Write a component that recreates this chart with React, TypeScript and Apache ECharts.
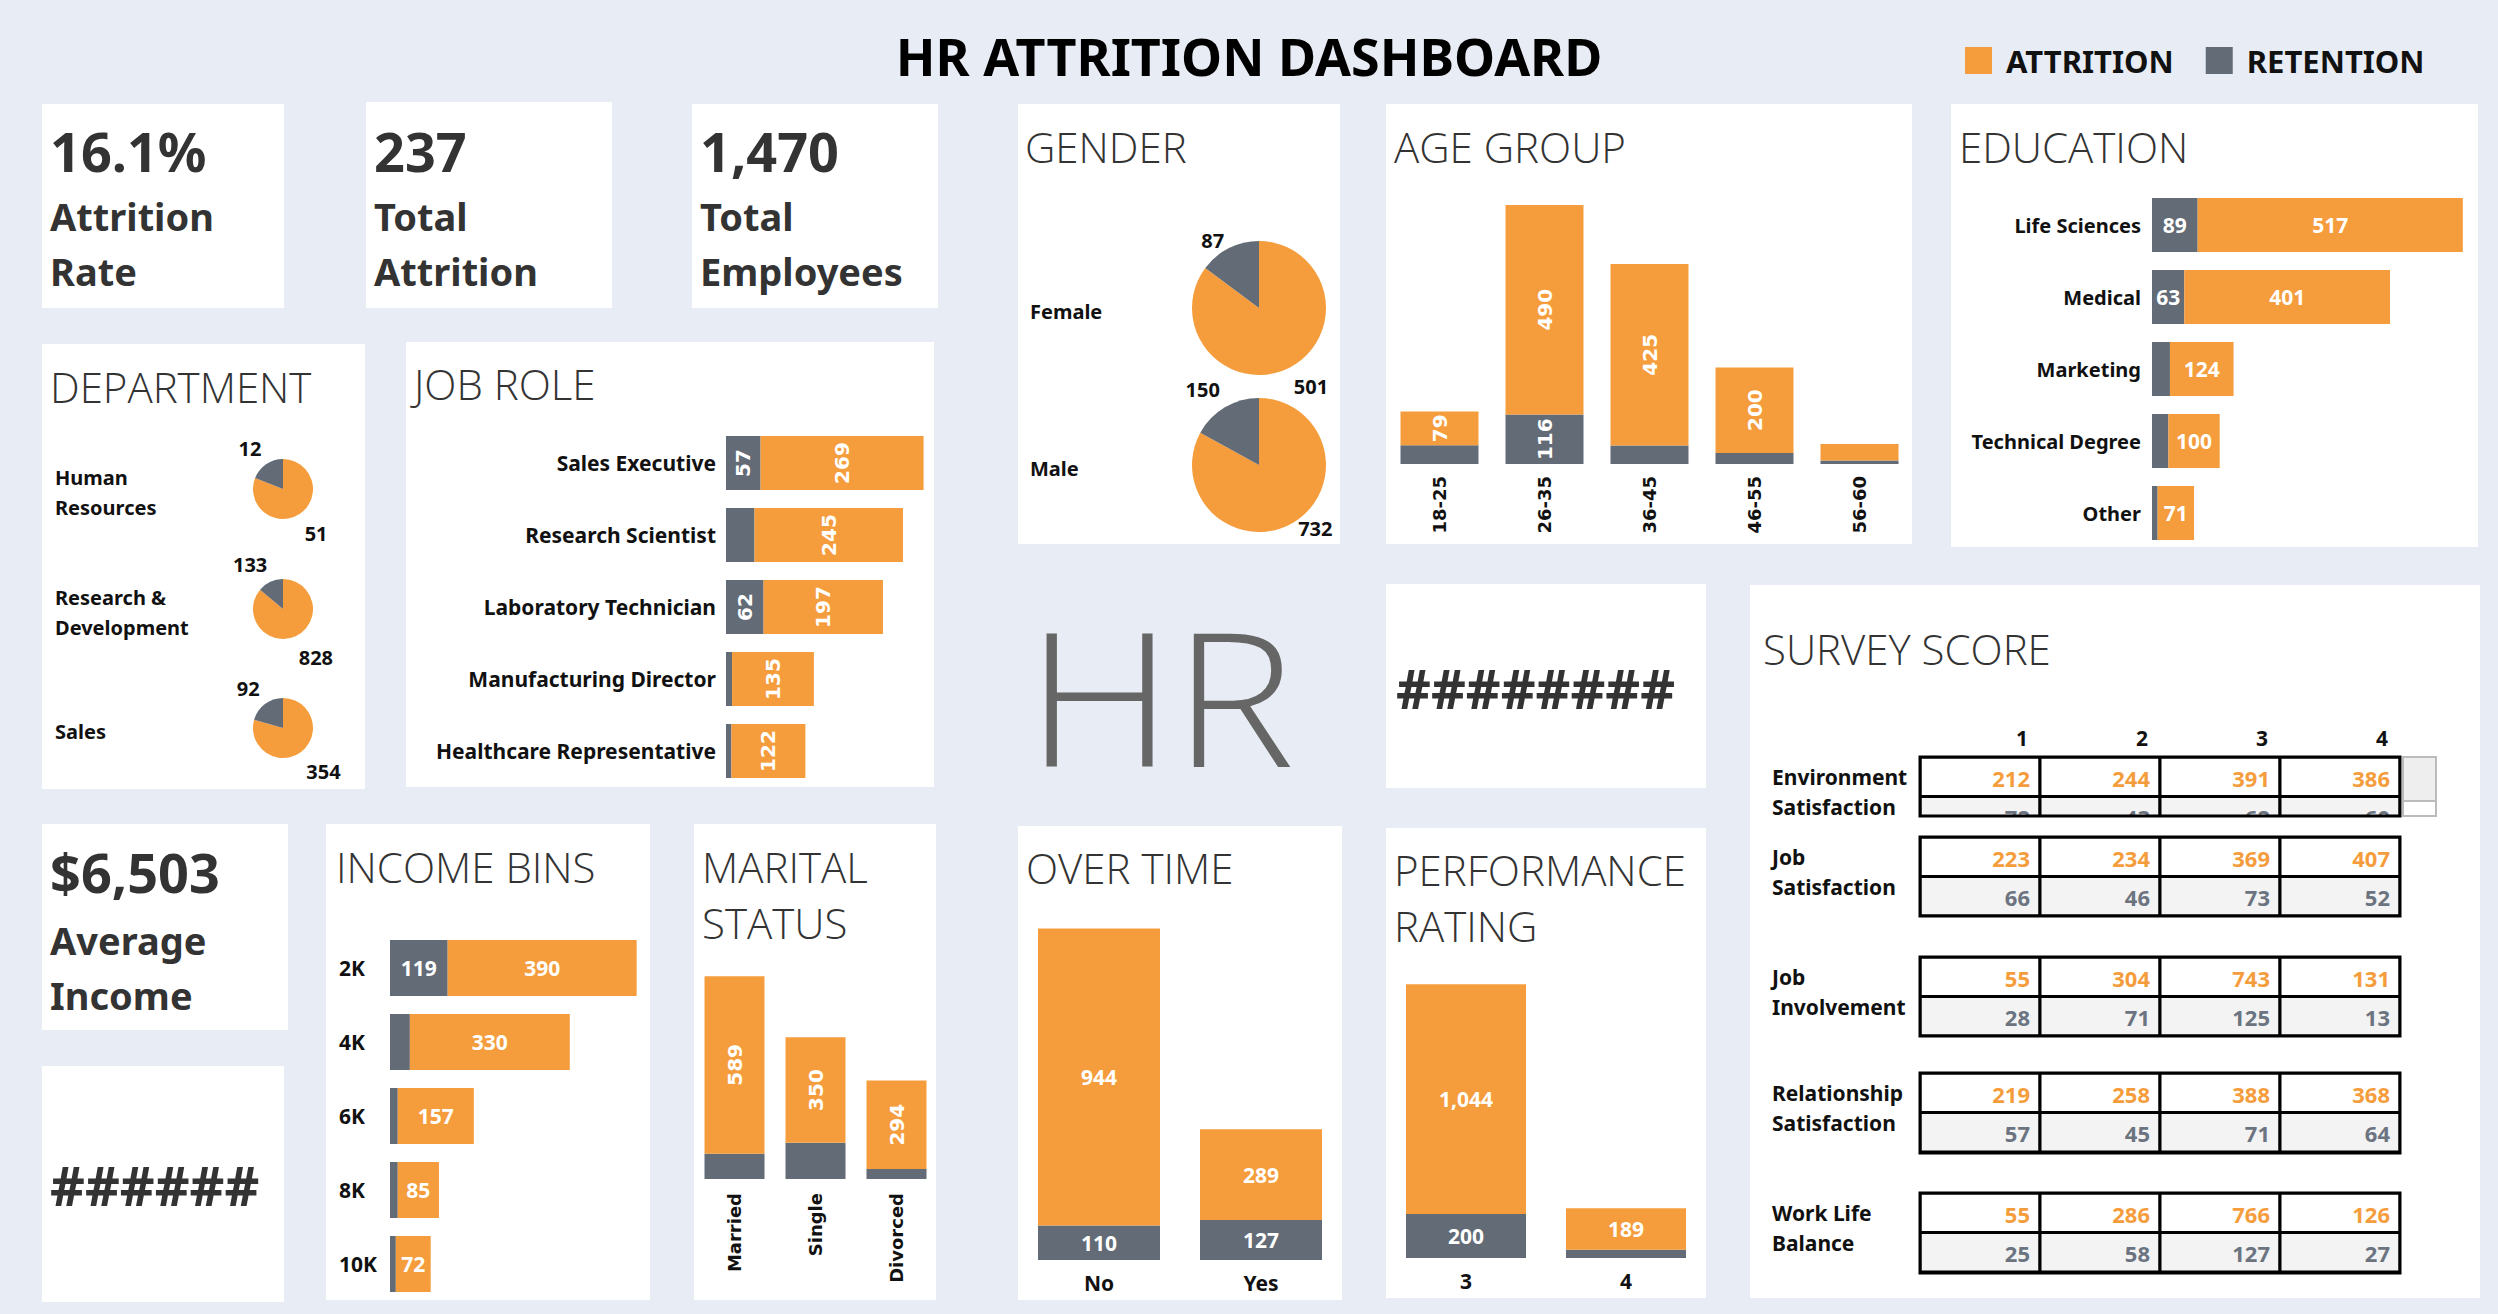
import React, { useEffect, useRef } from 'react';
import * as echarts from 'echarts';

// ---------------- data ----------------
const legendNames = ['ATTRITION', 'RETENTION'];

const kpiValues = ['16.1%', '237', '1,470'];
const kpiLabels = ['Attrition Rate', 'Total Attrition', 'Total Employees'];
const avgIncomeValue = '$6,503';
const avgIncomeLabel = 'Average Income';
const overflowValueA = '######';
const overflowValueB = '########';
const logoText = 'HR';

const deptNames = ['Human Resources', 'Research & Development', 'Sales'];
const deptAttrition = [51, 828, 354];
const deptRetention = [12, 133, 92];

const genderNames = ['Female', 'Male'];
const genderAttrition = [501, 732];
const genderRetention = [87, 150];

const jobRoles = ['Sales Executive', 'Research Scientist', 'Laboratory Technician', 'Manufacturing Director', 'Healthcare Representative'];
const jobRoleRetention = [57, 47, 62, 10, 9];
const jobRoleAttrition = [269, 245, 197, 135, 122];

const educationFields = ['Life Sciences', 'Medical', 'Marketing', 'Technical Degree', 'Other'];
const educationRetention = [89, 63, 35, 32, 11];
const educationAttrition = [517, 401, 124, 100, 71];

const incomeBins = ['2K', '4K', '6K', '8K', '10K'];
const incomeRetention = [119, 41, 16, 16, 12];
const incomeAttrition = [390, 330, 157, 85, 72];

const ageGroups = ['18-25', '26-35', '36-45', '46-55', '56-60'];
const ageRetention = [44, 116, 43, 26, 8];
const ageAttrition = [79, 490, 425, 200, 39];

const maritalStatus = ['Married', 'Single', 'Divorced'];
const maritalRetention = [84, 120, 33];
const maritalAttrition = [589, 350, 294];

const overTime = ['No', 'Yes'];
const overTimeRetention = [110, 127];
const overTimeAttrition = [944, 289];

const perfRatings = ['3', '4'];
const perfRetention = [200, 37];
const perfAttrition = [1044, 189];

const surveyCols = ['1', '2', '3', '4'];
const surveyRows = ['Environment Satisfaction', 'Job Satisfaction', 'Job Involvement', 'Relationship Satisfaction', 'Work Life Balance'];
const surveyAttrition = [
  [212, 244, 391, 386],
  [223, 234, 369, 407],
  [55, 304, 743, 131],
  [219, 258, 388, 368],
  [55, 286, 766, 126],
];
const surveyRetention = [
  [72, 43, 62, 60],
  [66, 46, 73, 52],
  [28, 71, 125, 13],
  [57, 45, 71, 64],
  [25, 58, 127, 27],
];

// ---------------- styles / layout ----------------
const W = 2498;
const H = 1314;
const BG = '#E8ECF5';
const ORANGE = '#F59D3C';
const GRAY = '#626B76';
const SURVEY_GRAY_TEXT = '#6B7480';
const SANS = '"Noto Sans", "Open Sans", sans-serif';
const LIGHT = '"Open Sans", "Noto Sans", sans-serif';
const WIDE = '"DejaVu Sans", Verdana, sans-serif';

const PANELS = [
  [42, 104, 242, 204], [366, 102, 246, 206], [692, 104, 246, 204],
  [42, 344, 323, 445], [406, 342, 528, 445],
  [1018, 104, 322, 440], [1386, 104, 526, 440], [1951, 104, 527, 443],
  [1386, 584, 320, 204], [1750, 585, 730, 713],
  [42, 824, 246, 206], [42, 1066, 242, 236],
  [326, 824, 324, 476], [694, 824, 242, 476], [1018, 826, 324, 474], [1386, 828, 320, 470],
];

const PANEL_TITLES: [string, number, number][] = [
  ['DEPARTMENT', 50, 386], ['JOB ROLE', 414, 383], ['GENDER', 1025, 146], ['AGE GROUP', 1394, 146],
  ['EDUCATION', 1959, 146], ['SURVEY SCORE', 1763, 648], ['INCOME BINS', 336, 866],
  ['MARITAL\nSTATUS', 702, 894], ['OVER TIME', 1026, 867], ['PERFORMANCE\nRATING', 1394, 897],
];

const KPI_X = [50, 374, 700];
const DEPT_PIE = { x: 283, ys: [489, 609, 728], r: 30 };
const GENDER_PIE = { x: 1259, ys: [308, 465], r: 67 };
// label nudges [orange dx, dy, gray dx, dy]
const DEPT_NUDGE = [-5, 10, 5, -6];
const GENDER_NUDGE = [[0, 15, 0, -4], [0, 2, 0, -14]];
const SURVEY = { left: 1920, width: 480, tops: [757, 837, 957, 1073, 1193], heights: [59, 79, 79, 80, 80], rowH: 39.5 };

const fmt = (v: number) => v.toLocaleString('en-US');
// put the last word of a label on its own line
const twoLines = (s: string) => {
  const i = s.lastIndexOf(' ');
  return i < 0 ? s : s.slice(0, i) + '\n' + s.slice(i + 1);
};

function text(t: string, x: number, y: number, font: string, fill: string, extra: any = {}, el: any = {}) {
  return { type: 'text', x, y, z: 2, ...el, style: { text: t, font, fill, align: 'left', verticalAlign: 'middle', ...extra } };
}

function stackedBars(idx: number, gray: number[], orange: number[], cfg: any) {
  const label = {
    show: true,
    position: 'inside',
    color: '#fff',
    rotate: cfg.rotate ? 90 : 0,
    fontFamily: cfg.rotate ? WIDE : SANS,
    fontWeight: 'bold',
    fontSize: cfg.rotate ? 20 : 21,
    formatter: (p: any) => fmt(p.value),
  };
  const mk = (vals: number[], min: number) => vals.map((v) => ({ value: v, label: { show: v >= min } }));
  const base = {
    type: 'bar',
    xAxisIndex: idx,
    yAxisIndex: idx,
    stack: 'stack' + idx,
    barWidth: cfg.barWidth,
    emphasis: { disabled: true },
    label,
  };
  return [
    { ...base, name: 'RETENTION', itemStyle: { color: GRAY }, data: mk(gray, cfg.grayMin) },
    { ...base, name: 'ATTRITION', itemStyle: { color: ORANGE }, data: mk(orange, cfg.orangeMin) },
  ];
}

function pieSeries(cx: number, cy: number, r: number, orangeV: number, grayV: number, len: number, nudge: number[]) {
  return {
    type: 'pie',
    center: [cx, cy],
    radius: r,
    startAngle: 90,
    clockwise: true,
    avoidLabelOverlap: false,
    emphasis: { disabled: true },
    itemStyle: { borderWidth: 0 },
    label: { show: true, position: 'outside', formatter: '{c}', fontFamily: SANS, fontWeight: 'bold', fontSize: 20, color: '#111', distanceToLabelLine: 3 },
    labelLine: { show: false, length: len, length2: 0 },
    labelLayout: (p: any) => (p.dataIndex === 0 ? { dx: nudge[0], dy: nudge[1] } : { dx: nudge[2], dy: nudge[3] }),
    data: [
      { name: 'ATTRITION', value: orangeV, itemStyle: { color: ORANGE } },
      { name: 'RETENTION', value: grayV, itemStyle: { color: GRAY } },
    ],
  };
}

const noLine = { axisLine: { show: false }, axisTick: { show: false }, splitLine: { show: false } };

function buildOption() {
  const grids: any[] = [
    { left: 726, top: 427, width: 200, height: 360 },
    { left: 2152, top: 189, width: 318, height: 360 },
    { left: 390, top: 931, width: 252, height: 370 },
    { left: 1387, top: 199, width: 525, height: 265 },
    { left: 694, top: 968, width: 243, height: 211 },
    { left: 1018, top: 914, width: 324, height: 346 },
    { left: 1386, top: 972, width: 320, height: 286 },
  ];
  const xAxes: any[] = [];
  const yAxes: any[] = [];
  const catLabel = (size: number, margin: number, extra: any = {}) => ({
    fontFamily: SANS, fontWeight: 'bold', fontSize: size, color: '#111', margin, ...extra,
  });
  const hDefs = [
    { cats: jobRoles, max: 330, label: catLabel(21, 10) },
    { cats: educationFields, max: 620, label: catLabel(20, 11) },
    { cats: incomeBins, max: 520, label: catLabel(21, 51, { align: 'left' }) },
  ];
  hDefs.forEach((d, i) => {
    xAxes.push({ gridIndex: i, type: 'value', min: 0, max: d.max, show: false, ...noLine });
    yAxes.push({ gridIndex: i, type: 'category', data: d.cats, inverse: true, ...noLine, axisLabel: d.label });
  });
  const wideLabel = (margin: number) => ({ fontFamily: WIDE, fontWeight: 'bold', fontSize: 18, color: '#111', rotate: 90, margin });
  const vDefs = [
    { cats: ageGroups, max: 620, label: wideLabel(12) },
    { cats: maritalStatus, max: 700, label: wideLabel(14) },
    { cats: overTime, max: 1100, label: catLabel(21, 12) },
    { cats: perfRatings, max: 1300, label: catLabel(21, 12) },
  ];
  vDefs.forEach((d, k) => {
    const i = k + 3;
    xAxes.push({ gridIndex: i, type: 'category', data: d.cats, ...noLine, axisLabel: d.label });
    yAxes.push({ gridIndex: i, type: 'value', min: 0, max: d.max, show: false, ...noLine });
  });

  const series: any[] = [
    ...stackedBars(0, jobRoleRetention, jobRoleAttrition, { barWidth: 54, rotate: true, grayMin: 50, orangeMin: 0 }),
    ...stackedBars(1, educationRetention, educationAttrition, { barWidth: 54, grayMin: 50, orangeMin: 0 }),
    ...stackedBars(2, incomeRetention, incomeAttrition, { barWidth: 56, grayMin: 50, orangeMin: 0 }),
    ...stackedBars(3, ageRetention, ageAttrition, { barWidth: 78, rotate: true, grayMin: 100, orangeMin: 50 }),
    ...stackedBars(4, maritalRetention, maritalAttrition, { barWidth: 60, rotate: true, grayMin: 1e9, orangeMin: 0 }),
    ...stackedBars(5, overTimeRetention, overTimeAttrition, { barWidth: 122, grayMin: 100, orangeMin: 0 }),
    ...stackedBars(6, perfRetention, perfAttrition, { barWidth: 120, grayMin: 100, orangeMin: 0 }),
  ];

  deptNames.forEach((_, i) => series.push(pieSeries(DEPT_PIE.x, DEPT_PIE.ys[i], DEPT_PIE.r, deptAttrition[i], deptRetention[i], 12, DEPT_NUDGE)));
  genderNames.forEach((_, i) => series.push(pieSeries(GENDER_PIE.x, GENDER_PIE.ys[i], GENDER_PIE.r, genderAttrition[i], genderRetention[i], 4, GENDER_NUDGE[i])));

  surveyRows.forEach((_, t) => {
    const gi = grids.length;
    const h = SURVEY.heights[t];
    grids.push({ left: SURVEY.left, top: SURVEY.tops[t], width: SURVEY.width, height: h, show: true, borderColor: '#000', borderWidth: 3, backgroundColor: 'transparent', z: 10 });
    xAxes.push({
      gridIndex: gi, type: 'value', min: 0, max: 4, interval: 1, position: 'top', show: t === 0, ...noLine,
      axisLabel: {
        show: t === 0, formatter: (v: number) => (v >= 1 ? surveyCols[v - 1] : ''), align: 'right', padding: [0, 12, 0, 0], margin: 9,
        fontFamily: SANS, fontWeight: 'bold', fontSize: 21, color: '#111', showMaxLabel: true, showMinLabel: true,
      },
    });
    yAxes.push({ gridIndex: gi, type: 'value', min: 0, max: h / SURVEY.rowH, inverse: true, show: false, ...noLine });
    const data: number[][] = [];
    surveyCols.forEach((_, c) => {
      data.push([c, 0, surveyAttrition[t][c]]);
      data.push([c, 1, surveyRetention[t][c]]);
    });
    series.push({
      type: 'custom', xAxisIndex: gi, yAxisIndex: gi, clip: true, z: 5,
      renderItem: (_p: any, api: any) => {
        const c = api.value(0);
        const r = api.value(1);
        const p0 = api.coord([c, r]);
        const p1 = api.coord([c + 1, r + 1]);
        const top = r === 0;
        return {
          type: 'group',
          children: [
            { type: 'rect', shape: { x: p0[0], y: p0[1], width: p1[0] - p0[0], height: p1[1] - p0[1] }, style: { fill: top ? '#FFFFFF' : '#F3F3F3', stroke: '#000', lineWidth: 3 } },
            { type: 'text', x: p1[0] - 10, y: (p0[1] + p1[1]) / 2 + 1, style: { text: fmt(api.value(2)), align: 'right', verticalAlign: 'middle', fill: top ? ORANGE : SURVEY_GRAY_TEXT, font: `bold 22px ${SANS}` } },
          ],
        };
      },
      data,
    });
  });

  const g: any[] = [];
  PANELS.forEach(([x, y, w, h]) => g.push({ type: 'rect', z: 0, shape: { x, y, width: w, height: h }, style: { fill: '#FFFFFF' } }));
  PANEL_TITLES.forEach(([t, x, y]) => g.push(text(t, x, y, `300 42px ${LIGHT}`, '#333', { lineHeight: 56 })));
  kpiValues.forEach((v, i) => {
    g.push(text(v, KPI_X[i], 151, `bold 54px ${SANS}`, '#333'));
    g.push(text(twoLines(kpiLabels[i]), KPI_X[i], 243, `bold 38px ${SANS}`, '#333', { lineHeight: 55 }));
  });
  g.push(text(avgIncomeValue, 50, 872, `bold 54px ${SANS}`, '#333'));
  g.push(text(twoLines(avgIncomeLabel), 50, 967, `bold 38px ${SANS}`, '#333', { lineHeight: 55 }));
  g.push(text(overflowValueA, 50, 1185, `bold 54px ${SANS}`, '#333'));
  g.push(text(overflowValueB, 1396, 688, `bold 54px ${SANS}`, '#333'));
  g.push(text(logoText, 1026, 695, `300 186px ${LIGHT}`, '#666', {}, { scaleX: 1.1 }));
  deptNames.forEach((n, i) => g.push(text(twoLines(n), 55, DEPT_PIE.ys[i] + 3, `bold 20px ${SANS}`, '#111', { lineHeight: 30 })));
  genderNames.forEach((n, i) => g.push(text(n, 1030, GENDER_PIE.ys[i] + 3, `bold 20px ${SANS}`, '#111')));
  surveyRows.forEach((n, t) => g.push(text(twoLines(n), 1772, SURVEY.tops[t] + 34.5, `bold 21px ${SANS}`, '#111', { lineHeight: 30 })));
  g.push({ type: 'rect', z: 2, shape: { x: 2403, y: 757, width: 33, height: 44 }, style: { fill: '#EEEEEE', stroke: '#BBBBBB', lineWidth: 2 } });
  g.push({ type: 'rect', z: 2, shape: { x: 2403, y: 801, width: 33, height: 15 }, style: { fill: '#FFFFFF', stroke: '#BBBBBB', lineWidth: 2 } });

  return {
    animation: false,
    backgroundColor: BG,
    title: {
      text: 'HR ATTRITION DASHBOARD', left: 'center', top: 24,
      textStyle: { fontFamily: SANS, fontWeight: 'bold', fontSize: 52, color: '#000' },
    },
    legend: {
      data: legendNames, left: 1960, top: 40, itemWidth: 27, itemHeight: 27, itemGap: 32, icon: 'rect', selectedMode: false,
      textStyle: { fontFamily: SANS, fontWeight: 'bold', fontSize: 31, color: '#111', padding: [0, 0, 0, 9] },
    },
    tooltip: { show: false },
    grid: grids.map((gr) => ({ outerBoundsMode: 'none', containLabel: false, ...gr })),
    xAxis: xAxes,
    yAxis: yAxes,
    series,
    graphic: { elements: g },
  };
}

export default function App() {
  const ref = useRef<HTMLDivElement>(null);
  useEffect(() => {
    document.body.style.margin = '0';
    if (!ref.current) return;
    const chart = echarts.init(ref.current, undefined, { renderer: 'svg', width: W, height: H });
    chart.setOption(buildOption() as any);
    return () => chart.dispose();
  }, []);
  return <div ref={ref} style={{ position: 'absolute', left: 0, top: 0, width: W, height: H }} />;
}
